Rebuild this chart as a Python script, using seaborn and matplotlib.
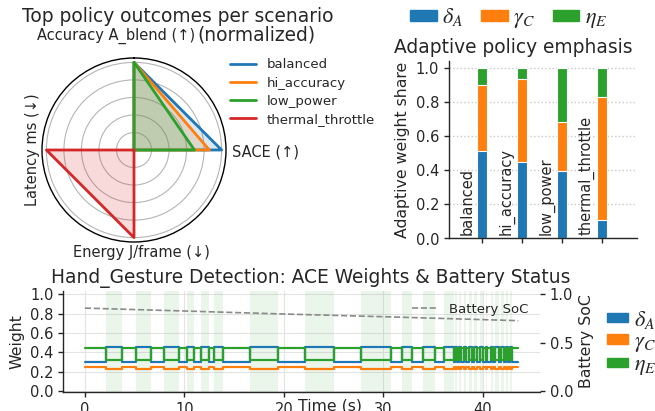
import numpy as np
import matplotlib
matplotlib.use("Agg")
import matplotlib.pyplot as plt
from matplotlib.patches import Patch
import seaborn as sns

# ---------------- data ----------------
radar_axes = ["Accuracy A_blend (↑)", "SACE (↑)", "Energy J/frame (↓)", "Latency ms (↓)"]
scenarios = ["balanced", "hi_accuracy", "low_power", "thermal_throttle"]
radar_balanced = [1.0, 1.0, 0.0, 0.0]
radar_hi_accuracy = [1.0, 0.86, 0.0, 0.0]
radar_low_power = [1.0, 0.69, 0.0, 0.0]
radar_thermal = [0.0, 0.0, 1.0, 1.0]

delta_share = [0.515, 0.45, 0.395, 0.11]
gamma_share = [0.385, 0.49, 0.29, 0.72]
eta_share = [0.10, 0.06, 0.315, 0.17]

# accuracy-emphasis periods (shaded) in seconds
span_start = [2.12, 5.15, 7.98, 10.27, 11.72, 13.03, 16.57, 22.18, 27.82, 31.85,
              33.99, 36.11, 37.21, 37.68, 38.12, 38.66, 39.19, 39.70, 40.30, 40.81,
              41.21, 41.88, 42.32, 42.75]
span_end = [3.70, 6.63, 9.46, 11.01, 12.49, 13.84, 19.46, 25.03, 30.74, 32.92,
            35.17, 37.11, 37.45, 37.85, 38.36, 38.89, 39.46, 40.03, 40.47, 41.04,
            41.64, 42.15, 42.55, 42.99]
t_end = 43.6
delta_levels = [0.30, 0.455]   # [normal, shaded]
gamma_levels = [0.25, 0.23]
eta_levels = [0.45, 0.32]

soc_time = [0, 10, 20, 30, 40, 43.6]
soc_value = [0.858, 0.828, 0.797, 0.769, 0.739, 0.728]

# ---------------- style ----------------
sns.set_theme(style="ticks", rc={
    "xtick.major.size": 3.5, "ytick.major.size": 3.5,
    "xtick.major.width": 1.0, "ytick.major.width": 1.0,
    "axes.linewidth": 1.0,
})
plt.rcParams["font.family"] = ["DejaVu Sans"]
plt.rcParams["mathtext.fontset"] = "stix"

C_BLUE, C_ORANGE, C_GREEN, C_RED = "#1f77b4", "#ff7f0e", "#2ca02c", "#d62728"
TITLE_FS, LABEL_FS, TICK_FS, LEG_FS, MATH_FS = 13.4, 11.3, 10.5, 9.5, 16

W, H = 655, 411
fig = plt.figure(figsize=(W / 100, H / 100), dpi=100)


def fx(p):
    return p / W


def fy(p):
    return 1 - p / H


# ---------------- radar ----------------
axp = fig.add_axes([fx(42), fy(242), 184 / W, 184 / H], projection="polar")
axp.set_theta_offset(np.pi / 2)
axp.set_theta_direction(-1)
angles = np.linspace(0, 2 * np.pi, len(radar_axes), endpoint=False)
closed = np.concatenate([angles, angles[:1]])
handles = []
for name, vals, col in zip(scenarios,
                           [radar_balanced, radar_hi_accuracy, radar_low_power, radar_thermal],
                           [C_BLUE, C_ORANGE, C_GREEN, C_RED]):
    v = list(vals) + [vals[0]]
    ln, = axp.plot(closed, v, color=col, lw=2, label=name)
    axp.fill(closed, v, color=col, alpha=0.17)
    handles.append(ln)
axp.set_ylim(0, 1.05)
axp.set_yticks([0.2, 0.4, 0.6, 0.8, 1.0])
axp.set_yticklabels([])
axp.set_xticks(angles)
axp.set_xticklabels([])
axp.xaxis.grid(False)
axp.yaxis.grid(True, color="#b5b5b5", lw=0.8)
axp.spines["polar"].set_color("black")
axp.spines["polar"].set_linewidth(1.0)
axp.tick_params(length=0)

fig.text(fx(116.5), fy(36), radar_axes[0], ha="center", va="center", fontsize=TICK_FS)
fig.text(fx(232), fy(152), radar_axes[1], ha="left", va="center", fontsize=TICK_FS)
fig.text(fx(141), fy(252), radar_axes[2], ha="center", va="center", fontsize=TICK_FS)
fig.text(fx(32), fy(150), radar_axes[3], ha="center", va="center", rotation=90, fontsize=TICK_FS)

fig.text(fx(178), fy(16), "Top policy outcomes per scenario", ha="center", va="center",
         fontsize=TITLE_FS)
fig.text(fx(256), fy(35), "(normalized)", ha="center", va="center", fontsize=TITLE_FS)

axp.legend(handles=handles, loc="upper left", bbox_to_anchor=(fx(224.5), fy(53)),
           bbox_transform=fig.transFigure, frameon=False, fontsize=LEG_FS,
           borderaxespad=0, labelspacing=0.4, handlelength=2.0)

# ---------------- stacked bars ----------------
axb = fig.add_axes([fx(449), fy(238.5), 188 / W, 177 / H])
axb.yaxis.grid(True, linestyle=":", color="#c8c8c8", lw=1.0)
axb.set_axisbelow(True)
tot_all = [d + g + e for d, g, e in zip(delta_share, gamma_share, eta_share)]
tot_dg = [d + g for d, g in zip(delta_share, gamma_share)]
for vals, col in [(tot_all, C_GREEN), (tot_dg, C_ORANGE), (delta_share, C_BLUE)]:
    sns.barplot(x=scenarios, y=vals, color=col, width=0.25, saturation=1,
                edgecolor="white", linewidth=0.8, errorbar=None, ax=axb)
axb.set_xlim(-0.82, 3.88)
axb.set_ylim(0, 1.04)
axb.set_yticks([0.0, 0.2, 0.4, 0.6, 0.8, 1.0])
axb.set_xticks(range(len(scenarios)))
axb.set_xticklabels([""] * len(scenarios))
axb.set_xlabel("")
axb.tick_params(labelsize=TICK_FS)
axb.set_ylabel("Adaptive weight share", fontsize=LABEL_FS)
for i, name in enumerate(scenarios):
    axb.text(i - 0.375, 0.02, name, rotation=90, ha="center", va="bottom", fontsize=TICK_FS)
sns.despine(ax=axb)
axb.set_title("Adaptive policy emphasis", fontsize=TITLE_FS, x=0.34)

weight_labels = [r"$\delta_A$", r"$\gamma_C$", r"$\eta_E$"]
weight_colors = [C_BLUE, C_ORANGE, C_GREEN]
weight_handles = [Patch(color=c, label=l) for c, l in zip(weight_colors, weight_labels)]
axb.legend(handles=weight_handles, loc="center left", bbox_to_anchor=(fx(401), fy(18.5)),
           bbox_transform=fig.transFigure, ncol=3, frameon=False, fontsize=MATH_FS,
           borderaxespad=0, handlelength=1.2, handleheight=0.4, handletextpad=0.25,
           columnspacing=0.8)

# ---------------- timeline ----------------
axt = fig.add_axes([fx(63.3), fy(392), (540 - 63.3) / W, 101 / H])
axt.grid(True, color="#e3e3e3", lw=0.8)
for s, e in zip(span_start, span_end):
    axt.axvspan(s, e, color=C_GREEN, alpha=0.09, lw=0)

t_steps = [0.0]
mode = [0]
for s, e in zip(span_start, span_end):
    t_steps += [s, e]
    mode += [1, 0]
t_steps.append(t_end)
mode.append(mode[-1])
mode = np.array(mode)
for levels, col in [(delta_levels, C_BLUE), (gamma_levels, C_ORANGE), (eta_levels, C_GREEN)]:
    yv = np.where(mode == 1, levels[1], levels[0])
    sns.lineplot(x=t_steps, y=yv, ax=axt, color=col, lw=1.6, drawstyle="steps-post",
                 estimator=None, sort=False)
axt.set_ylim(-0.01, 1.035)
axt.set_yticks([0.0, 0.2, 0.4, 0.6, 0.8, 1.0])
axt.set_xticks([0, 10, 20, 30, 40])
axt.tick_params(labelsize=TICK_FS)
axt.set_ylabel("Weight", fontsize=LABEL_FS)
axt.set_xlabel("Time (s)", fontsize=LABEL_FS)
axt.xaxis.set_label_coords(0.56, -0.065)
axt.set_title("Hand_Gesture Detection: ACE Weights & Battery Status", fontsize=TITLE_FS, x=0.52)
sns.despine(ax=axt)

axs = axt.twinx()
sns.lineplot(x=soc_time, y=soc_value, ax=axs, color="#8a8a8a", lw=1.2, linestyle="--",
             label="Battery SoC")
axs.set_ylim(-0.01, 1.035)
axs.set_yticks([0.0, 0.5, 1.0])
axs.tick_params(labelsize=TICK_FS)
axs.set_ylabel("Battery SoC", fontsize=LABEL_FS)
for sp in axs.spines.values():
    sp.set_visible(False)
axs.legend(loc="upper right", frameon=False, fontsize=LEG_FS)

fig.legend(handles=weight_handles, loc="center left", bbox_to_anchor=(fx(587), fy(343)),
           frameon=False, fontsize=MATH_FS, handlelength=0.95, handleheight=0.27,
           handletextpad=0.25, labelspacing=0.02)

fig.savefig("out.png", dpi=100)
